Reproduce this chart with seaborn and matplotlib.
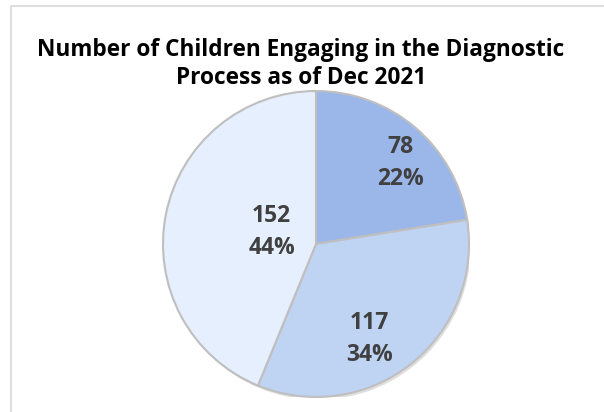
import matplotlib
matplotlib.use("Agg")
import matplotlib.pyplot as plt
import seaborn as sns
from matplotlib.patches import Rectangle, Circle

sns.set_theme(style="white")
plt.rcParams['font.family'] = ['Open Sans', 'DejaVu Sans']

# Data
categories = ["Group A", "Group B", "Group C"]
values = [78, 117, 152]
colors = ["#9BB7E9", "#BFD3F3", "#E6EFFD"]
title = "Number of Children Engaging in the Diagnostic\nProcess as of Dec 2021"

W, H = 604, 412
fig = plt.figure(figsize=(W / 100, H / 100), dpi=100)
fig.patch.set_facecolor("white")

# chart area frame (cropped on right/bottom)
fig.patches.append(Rectangle((11 / W, -0.05), 1.2, (H - 6) / H + 0.05,
                             transform=fig.transFigure, fill=False,
                             edgecolor="#D9D9D9", linewidth=1.2))

cx, cy, r = 316, 244, 153
ax = fig.add_axes([(cx - r) / W, (H - cy - r) / H, 2 * r / W, 2 * r / H])

total = sum(values)

def fmt(p):
    v = round(p * total / 100)
    return f"{v}\n{p:.0f}%"

# subtle shadow
ax.add_patch(Circle((0.012, -0.018), 1.0, color="#A6A6A6", alpha=0.35, zorder=0, lw=0))

wedges, texts, autotexts = ax.pie(values, colors=colors, startangle=90, counterclock=False,
                                  autopct=fmt, pctdistance=0.6,
                                  wedgeprops=dict(edgecolor="#BFBFBF", linewidth=1.5),
                                  textprops=dict(color="#404040", fontsize=16.5, fontweight="bold",
                                                 linespacing=1.42))
for w in wedges:
    w.set_clip_on(False)
    w.set_zorder(1)

label_xy = [(0.55, 0.53), (0.35, -0.62), (-0.29, 0.08)]
for t, (x, y) in zip(autotexts, label_xy):
    t.set_position((x, y))
    t.set_ha("center")
    t.set_va("center")

ax.set_xlim(-1, 1)
ax.set_ylim(-1, 1)
ax.set_aspect("equal")
ax.axis("off")

fig.text(301 / W, 1 - 64 / H, title, ha="center", va="center", fontsize=16.3,
         fontweight="bold", color="black", linespacing=1.25)

fig.savefig("out.png", dpi=100)
